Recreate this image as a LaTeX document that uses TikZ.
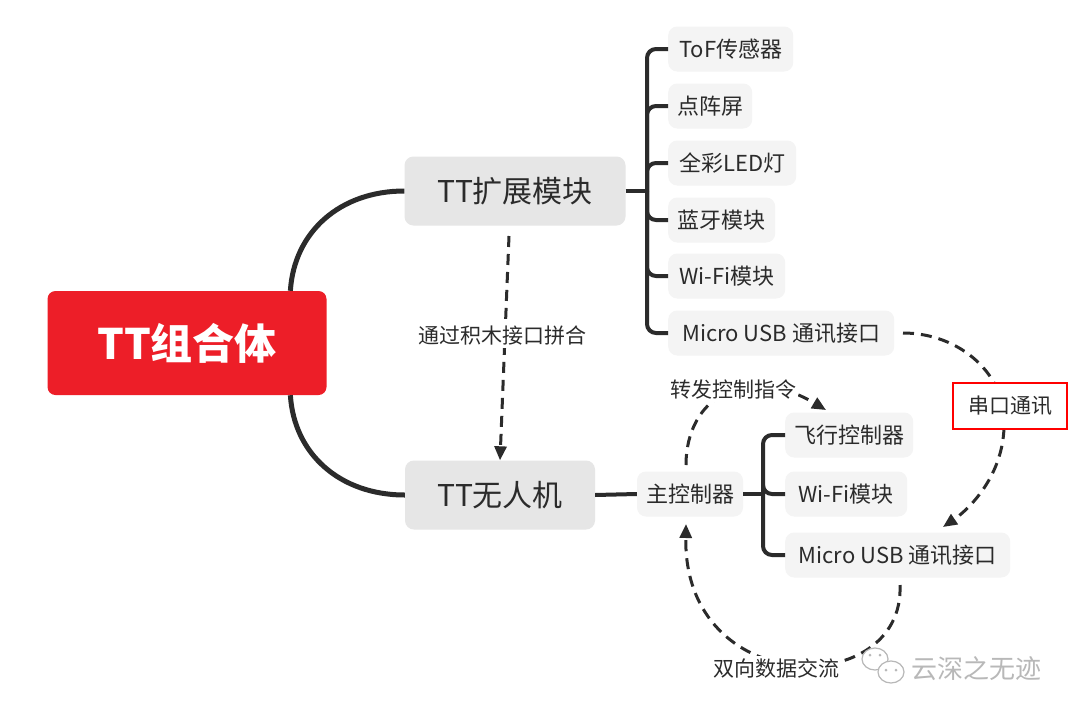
\documentclass[tikz,border=0pt]{standalone}
\usepackage{fontspec}
\setmainfont{Noto Sans CJK SC}
\usetikzlibrary{arrows.meta,calc}
\definecolor{ink}{HTML}{2B2B2B}
\definecolor{rootred}{RGB}{237,30,40}
\definecolor{mainfill}{HTML}{E6E6E6}
\definecolor{subfill}{HTML}{F4F4F4}
\definecolor{wm}{HTML}{B8B8B8}
\tikzset{
  rootbox/.style={fill=rootred, rounded corners=8pt, minimum width=279pt, minimum height=104pt, text=white, font=\fontsize{42}{48}\selectfont\bfseries},
  mainbox/.style={fill=mainfill, rounded corners=9pt, minimum height=69pt, text=ink, font=\fontsize{30}{34}\selectfont},
  subbox/.style={fill=subfill, rounded corners=9pt, minimum height=45pt, text=ink, font=\fontsize{22}{26}\selectfont, anchor=west},
  lbl/.style={fill=white, text=ink, inner sep=2pt, font=\fontsize{21}{25}\selectfont},
  trunk/.style={draw=ink, line width=5pt},
  branch/.style={draw=ink, line width=4pt, rounded corners=9pt},
  dashline/.style={draw=ink, line width=3pt, dash pattern=on 11pt off 7pt},
  tip/.style={-{Triangle[length=14pt,width=12pt]}},
}
\begin{document}
\begin{tikzpicture}[x=1pt,y=-1pt]
\useasboundingbox (0,0) rectangle (1080,718);
\fill[white] (0,0) rectangle (1080,718);

% main nodes
\node[rootbox] (root) at (187,343) {TT组合体};
\node[mainbox, minimum width=221pt] (ext) at (515,191) {TT扩展模块};
\node[mainbox, minimum width=190pt] (uav) at (500,495) {TT无人机};

% children of ext
\node[subbox, minimum width=125pt] (tof) at (668,49) {ToF传感器};
\node[subbox, minimum width=84pt] (dot) at (668,106) {点阵屏};
\node[subbox, minimum width=128pt] (led) at (668,163) {全彩LED灯};
\node[subbox, minimum width=107pt] (bt) at (668,220) {蓝牙模块};
\node[subbox, minimum width=117pt] (wifi) at (668,276) {Wi-Fi模块};
\node[subbox, minimum width=226pt] (usb) at (668,333) {Micro USB 通讯接口};

% uav side
\node[subbox, anchor=center, minimum width=106pt] (mc) at (690,494) {主控制器};
\node[subbox, minimum width=128pt] (fc) at (785,435) {飞行控制器};
\node[subbox, minimum width=122pt] (wifi2) at (785,494) {Wi-Fi模块};
\node[subbox, minimum width=225pt] (usb2) at (785,555) {Micro USB 通讯接口};

% root curves
\coordinate (rt) at ($(root.north west)!0.87!(root.north east)$);
\coordinate (rb) at ($(root.south west)!0.87!(root.south east)$);
\draw[trunk] (rt) .. controls (294,232) and (340,191) .. (ext.west);
\draw[trunk] (rb) .. controls (294,454) and (340,495) .. (uav.west);

% ext bracket
\coordinate (j1) at (647,191);
\draw[draw=ink, line width=4pt] (ext.east) -- (j1);
\foreach \c in {tof,dot,led,bt,wifi,usb}{
  \draw[branch] (j1) |- (\c.west);
}

% uav bracket
\draw[draw=ink, line width=4pt] (uav.east) -- (mc.west);
\coordinate (j2) at (763,494);
\draw[draw=ink, line width=4pt] (mc.east) -- (j2);
\foreach \c in {fc,wifi2,usb2}{
  \draw[branch] (j2) |- (\c.west);
}

% dashed: ext -> uav
\coordinate (d1) at (509,236);
\draw[dashline, tip] (d1) -- (uav.north);
\node[lbl] (l1) at (502,336) {通过积木接口拼合};

% dashed: usb -> usb2 (串口通讯)
\coordinate (s1) at (903,333);
\coordinate (s2) at (1004,428);
\coordinate (s3) at (943,527);
\draw[dashline] (s1) .. controls (960,333) and (1008,375) .. (s2);
\draw[dashline, tip] (s2) .. controls (1002,480) and (965,512) .. (s3);
\node[draw=red, line width=1.6pt, fill=white, minimum width=114pt, minimum height=46pt, text=ink, font=\fontsize{21}{25}\selectfont] (l2) at (1010,406) {串口通讯};

% dashed: mc -> fc (转发控制指令)
\coordinate (f1) at (686,465);
\coordinate (f2) at (826,410);
\draw[dashline, tip] (f1) .. controls (686,398) and (745,362) .. (f2);
\node[lbl] (l3) at (733,390) {转发控制指令};

% dashed: usb2 -> mc (双向数据交流)
\coordinate (b1) at (900,585);
\coordinate (b2) at (686,524);
\draw[dashline, tip] (b1) .. controls (905,700) and (683,700) .. (b2);
\node[lbl] (l4) at (776,668) {双向数据交流};

% watermark
\draw[wm, line width=1.2pt, fill=white] (875,659) ellipse (13pt and 11pt);
\draw[wm, line width=1.2pt, fill=white] (891,672) ellipse (13pt and 11pt);
\fill[wm] (870,655) circle (1.5pt) (880,655) circle (1.5pt) (886,670) circle (1.5pt) (896,670) circle (1.5pt);
\node[text=wm, font=\fontsize{26}{30}\selectfont, anchor=west] (wmt) at (908,669) {云深之无迹};
\end{tikzpicture}
\end{document}
